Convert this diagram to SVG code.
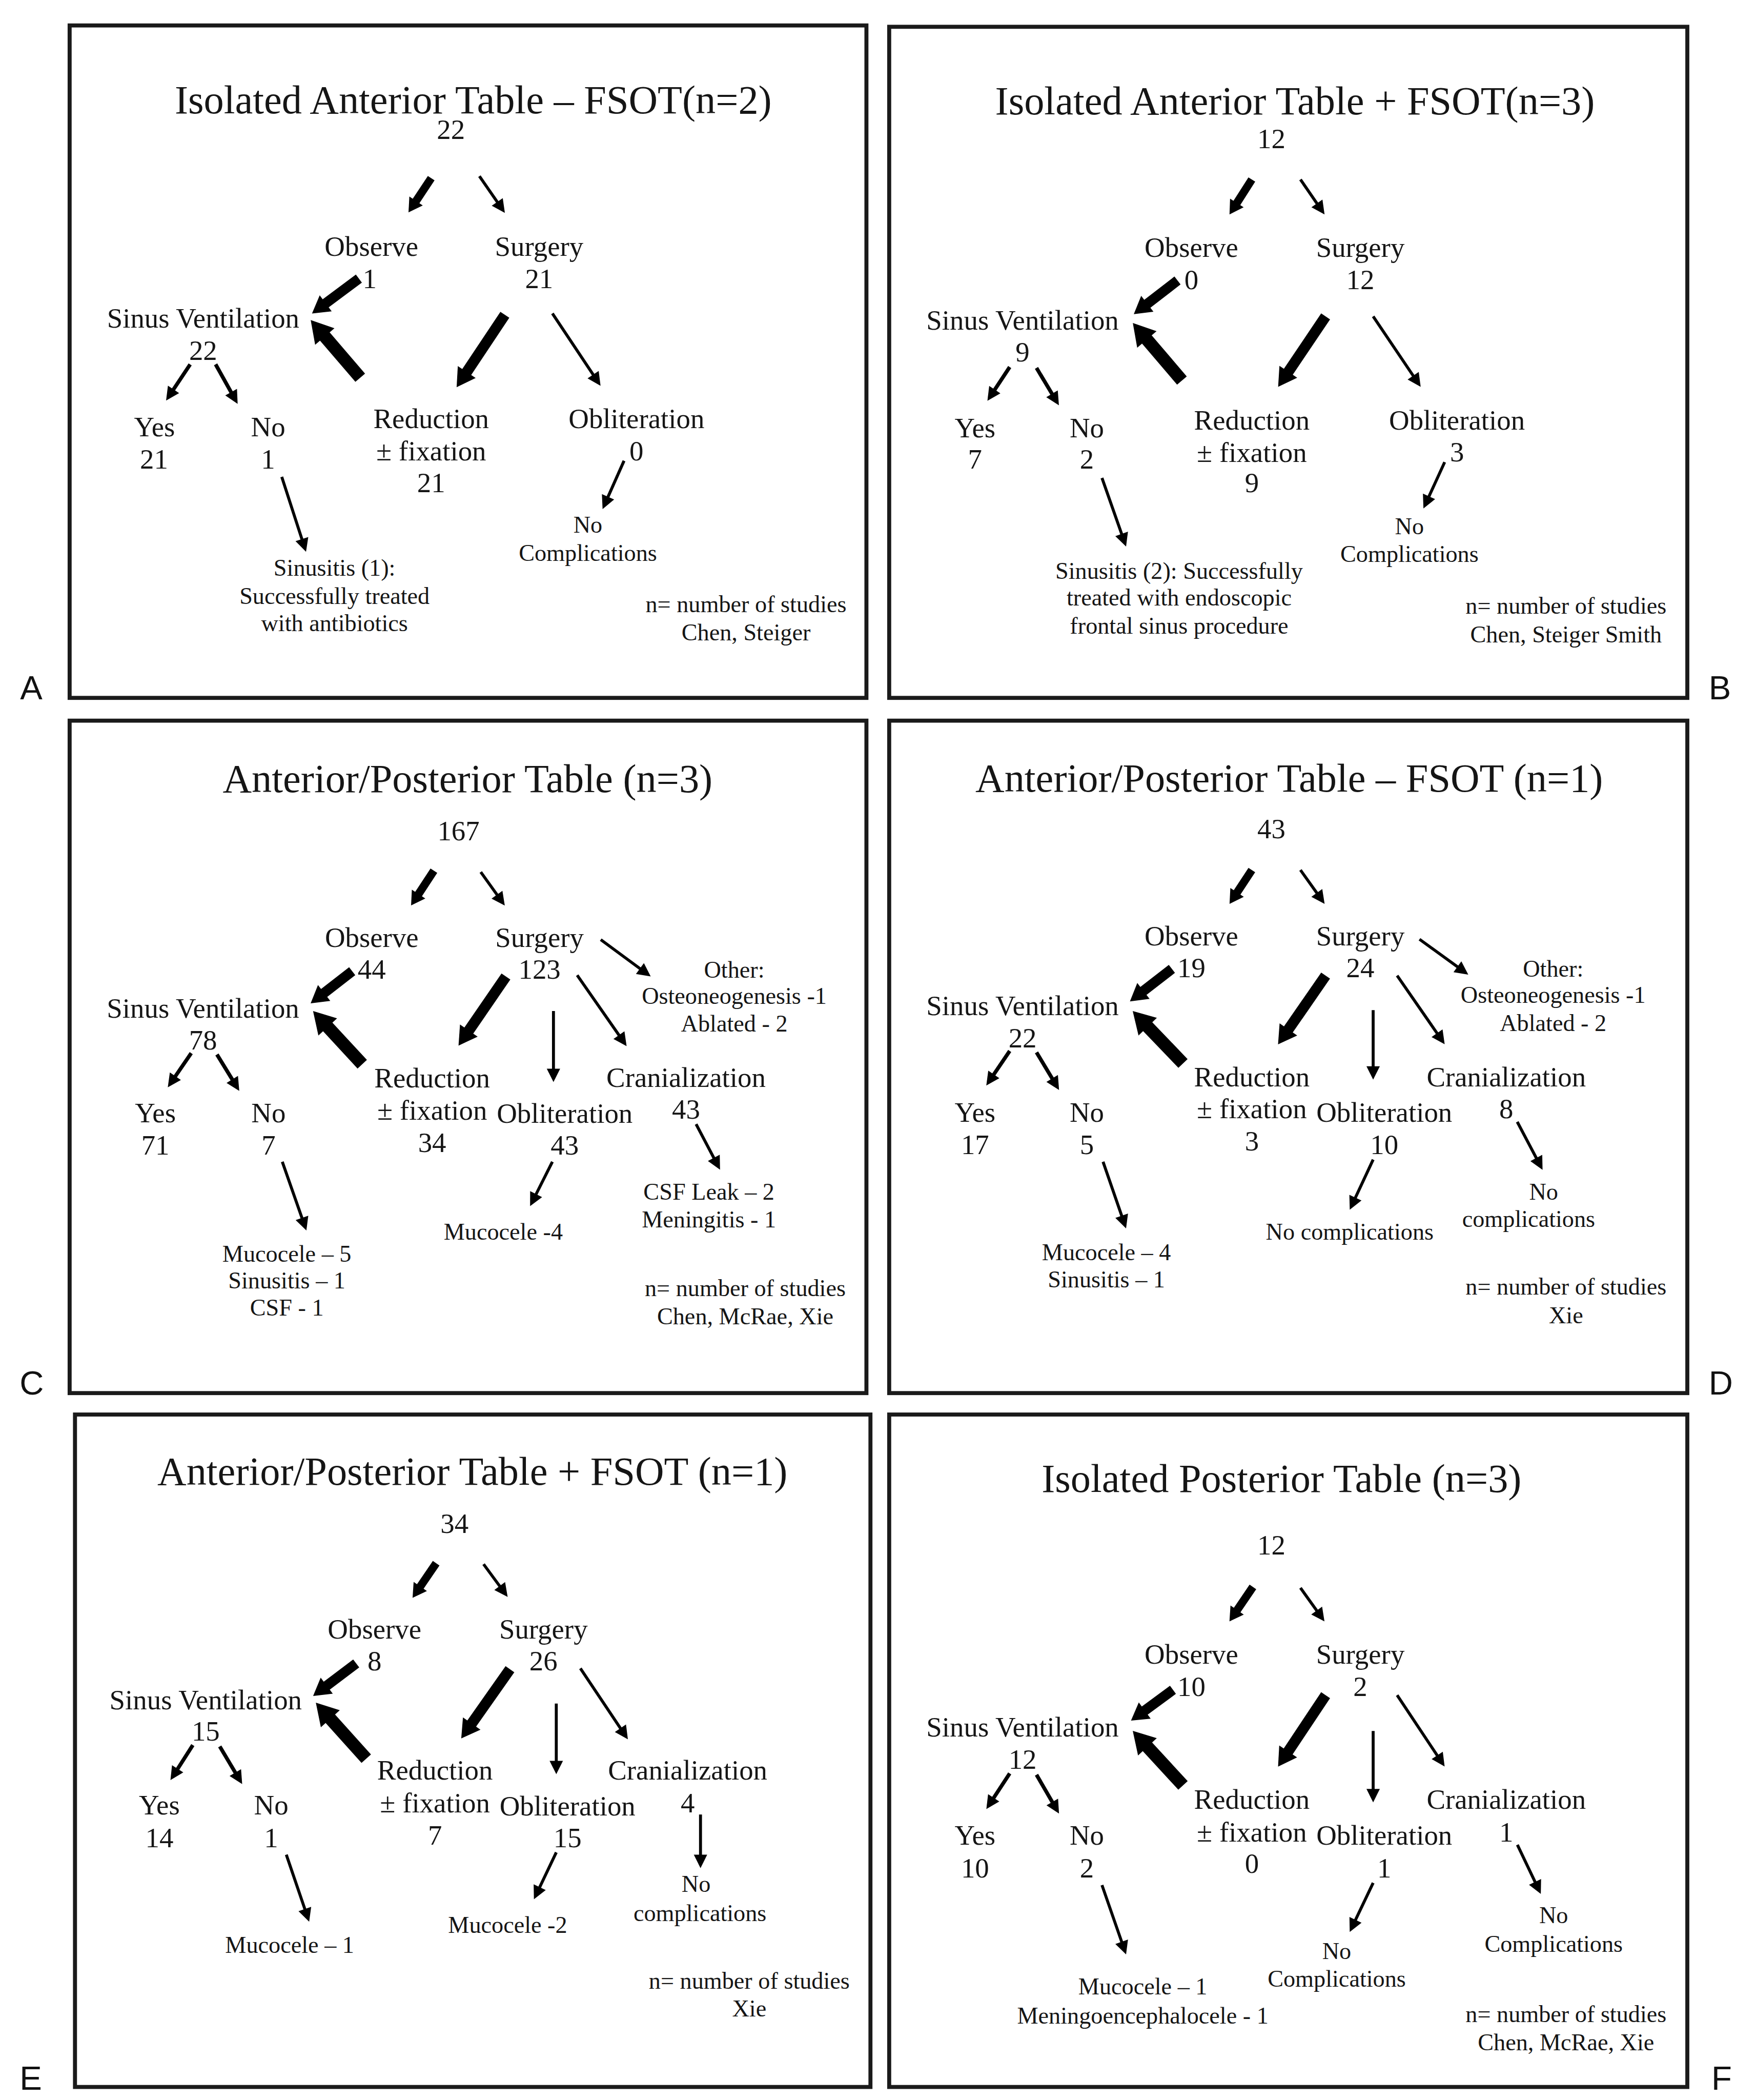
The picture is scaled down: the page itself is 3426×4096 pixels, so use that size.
<svg xmlns="http://www.w3.org/2000/svg" width="3426" height="4096" viewBox="0 0 3426 4096">
<defs>
<style>
.t{font-family:"Liberation Serif","Times New Roman",serif;fill:#151515;text-anchor:middle}
.ti{font-size:30px}
.n{font-size:21px}
.s{font-size:17.7px}
.lbl{font-family:"Liberation Sans",Arial,sans-serif;font-size:25px;fill:#111}
.fr{fill:none;stroke:#1a1a1a;stroke-width:3}
.k{stroke:#000;fill:none;marker-end:url(#hk)}
.w6{stroke-width:6}.w75{stroke-width:7.5}.w8{stroke-width:8}.w95{stroke-width:9.5}
.a{stroke:#000;fill:none;stroke-width:2.2;marker-end:url(#hn)}
.m{stroke-width:2.8}
</style>
<marker id="hk" viewBox="0 -1 1.7 2" refX="0.75" refY="0" markerWidth="1.7" markerHeight="2" orient="auto" markerUnits="strokeWidth" overflow="visible"><path d="M0,-1 L1.7,0 L0,1 z" fill="#000"/></marker>
<marker id="hn" viewBox="0 -5 10 10" refX="7" refY="0" markerWidth="10" markerHeight="10" orient="auto" markerUnits="userSpaceOnUse" overflow="visible"><path d="M0,-5 L10,0 L0,5 z" fill="#000"/></marker>
</defs>
<rect x="0" y="0" width="3426" height="4096" fill="#fff"/>
<g transform="scale(2.6127)">
<g id="frames">
<rect class="fr" x="52" y="19" width="595" height="502"/>
<rect class="fr" x="664" y="20" width="596" height="501"/>
<rect class="fr" x="52" y="538" width="595" height="502"/>
<rect class="fr" x="664" y="538" width="596" height="502"/>
<rect class="fr" x="56" y="1056" width="594" height="502"/>
<rect class="fr" x="664" y="1056" width="596" height="502"/>
<text class="lbl" x="15" y="522">A</text>
<text class="lbl" x="1276" y="522">B</text>
<text class="lbl" x="14.6" y="1041">C</text>
<text class="lbl" x="1276" y="1041">D</text>
<text class="lbl" x="14.6" y="1560">E</text>
<text class="lbl" x="1278" y="1560">F</text>
</g>

<g id="connectors">
<g id="conn-A">
<line class="k w6" x1="322" y1="133" x2="308.2" y2="153.8"/>
<line class="a" x1="358" y1="131.5" x2="375.3" y2="156.5"/>
<line class="k w75" x1="268" y1="208" x2="238.7" y2="229.8"/>
<line class="k w95" x1="269" y1="282" x2="237.9" y2="245.8"/>
<line class="k w8" x1="377" y1="235" x2="345.2" y2="282.7"/>
<line class="a" x1="412.5" y1="234" x2="446.8" y2="285.5"/>
<line class="a m" x1="142" y1="272" x2="125.7" y2="296.5"/>
<line class="a m" x1="161" y1="272" x2="176" y2="298.9"/>
<line class="a" x1="210.4" y1="356" x2="227.6" y2="409.1"/>
<line class="a" x1="466" y1="344" x2="451.2" y2="377.3"/>
</g>
<g id="conn-B">
<line class="k w6" x1="934.8" y1="134" x2="921.2" y2="155.3"/>
<line class="a" x1="971.1" y1="134" x2="987.4" y2="157.6"/>
<line class="k w75" x1="879.3" y1="209.4" x2="852.3" y2="230.2"/>
<line class="k w95" x1="882.6" y1="284.1" x2="851.8" y2="248"/>
<line class="k w8" x1="989.9" y1="236.2" x2="958.7" y2="282.5"/>
<line class="a" x1="1025.4" y1="236.2" x2="1059.2" y2="286.3"/>
<line class="a m" x1="754" y1="274" x2="739" y2="296.7"/>
<line class="a m" x1="774" y1="274.7" x2="789.2" y2="300"/>
<line class="a" x1="822.9" y1="356.8" x2="839.9" y2="405.2"/>
<line class="a" x1="1078.8" y1="345" x2="1064.2" y2="376.9"/>
</g>
<g id="conn-C">
<line class="k w6" x1="324" y1="650" x2="310.1" y2="671.2"/>
<line class="a" x1="359" y1="651" x2="375.2" y2="673.6"/>
<line class="a" x1="448.6" y1="701.5" x2="483.5" y2="727.2"/>
<line class="k w75" x1="263" y1="725" x2="237.6" y2="744.7"/>
<line class="k w95" x1="270.5" y1="794.5" x2="239.9" y2="761.4"/>
<line class="k w8" x1="377.8" y1="729" x2="346.7" y2="774.3"/>
<line class="a" x1="413.3" y1="754.8" x2="413.3" y2="804.8"/>
<line class="a" x1="431" y1="728" x2="466.2" y2="778.5"/>
<line class="a m" x1="142.8" y1="786.2" x2="127" y2="809.2"/>
<line class="a m" x1="162" y1="787.2" x2="177.1" y2="811.8"/>
<line class="a" x1="210.8" y1="867.3" x2="227.8" y2="915.8"/>
<line class="a" x1="412.5" y1="867.3" x2="397.2" y2="897.7"/>
<line class="a" x1="519.8" y1="839.2" x2="536.3" y2="870.6"/>
</g>
<g id="conn-D">
<line class="k w6" x1="934.8" y1="649.5" x2="921.3" y2="670"/>
<line class="a" x1="971.1" y1="649.5" x2="987.4" y2="672.3"/>
<line class="a" x1="1060" y1="701.2" x2="1094" y2="725.8"/>
<line class="k w75" x1="875.1" y1="723.3" x2="849.4" y2="743.2"/>
<line class="k w95" x1="883.4" y1="793.9" x2="852.1" y2="761.3"/>
<line class="k w8" x1="989.9" y1="728.3" x2="958.7" y2="773.4"/>
<line class="a" x1="1025.4" y1="754.1" x2="1025.4" y2="803"/>
<line class="a" x1="1043.3" y1="728.3" x2="1077.1" y2="777.1"/>
<line class="a m" x1="754" y1="784.6" x2="738.2" y2="807.9"/>
<line class="a m" x1="774" y1="785.6" x2="789.3" y2="811.1"/>
<line class="a" x1="823.7" y1="867.3" x2="839.9" y2="914.2"/>
<line class="a" x1="1025.4" y1="865.7" x2="1009.2" y2="900.4"/>
<line class="a" x1="1133" y1="837.5" x2="1150.5" y2="870.7"/>
</g>
<g id="conn-E">
<line class="k w6" x1="325.7" y1="1167" x2="311.3" y2="1188.1"/>
<line class="a" x1="361.1" y1="1167.7" x2="377.3" y2="1189.7"/>
<line class="k w75" x1="266" y1="1241.8" x2="239.5" y2="1261.8"/>
<line class="k w95" x1="273.5" y1="1312.9" x2="241.9" y2="1277.8"/>
<line class="k w8" x1="380.8" y1="1246.1" x2="348.8" y2="1291.6"/>
<line class="a" x1="415.4" y1="1271.8" x2="415.4" y2="1321.5"/>
<line class="a" x1="433.4" y1="1245.5" x2="467.2" y2="1296"/>
<line class="a m" x1="144" y1="1302.8" x2="128.9" y2="1326.4"/>
<line class="a m" x1="164.1" y1="1303.8" x2="179.3" y2="1329.3"/>
<line class="a" x1="523.1" y1="1354.6" x2="523.1" y2="1391.6"/>
<line class="a" x1="213.8" y1="1384.6" x2="229.9" y2="1431.8"/>
<line class="a" x1="415.4" y1="1382.9" x2="400" y2="1415.2"/>
</g>
<g id="conn-F">
<line class="k w6" x1="935.6" y1="1184.7" x2="921.3" y2="1205.7"/>
<line class="a" x1="971.1" y1="1185.4" x2="987.3" y2="1208"/>
<line class="k w75" x1="875.9" y1="1261.5" x2="850.3" y2="1280.3"/>
<line class="k w95" x1="883.4" y1="1332.9" x2="852" y2="1298.8"/>
<line class="k w8" x1="989.9" y1="1265.5" x2="958.6" y2="1312.5"/>
<line class="a" x1="1025.4" y1="1292.2" x2="1025.4" y2="1342.5"/>
<line class="a" x1="1043.3" y1="1265.5" x2="1077.1" y2="1316.3"/>
<line class="a m" x1="754" y1="1323.9" x2="738.2" y2="1348"/>
<line class="a m" x1="774" y1="1324.9" x2="789.3" y2="1351.3"/>
<line class="a" x1="1133.1" y1="1377.2" x2="1149.3" y2="1411.2"/>
<line class="a" x1="1025.4" y1="1405.6" x2="1009.2" y2="1439.6"/>
<line class="a" x1="822.9" y1="1407.3" x2="839.9" y2="1456.2"/>
</g>
</g>

<g id="panel-A">
<g id="A-title"><text class="t ti" x="353.4" y="84.4">Isolated Anterior Table – FSOT(n=2)</text></g>
<g id="A-root"><text class="t n" x="336.7" y="103.8">22</text></g>
<g id="A-observe"><text class="t n" x="277.4" y="191">Observe</text><text class="t n" x="276" y="215">1</text></g>
<g id="A-surgery"><text class="t n" x="402.6" y="191">Surgery</text><text class="t n" x="402.6" y="215">21</text></g>
<g id="A-sinus"><text class="t n" x="151.7" y="244.5">Sinus Ventilation</text><text class="t n" x="151.7" y="268.6">22</text></g>
<g id="A-yes"><text class="t n" x="115.4" y="325.6">Yes</text><text class="t n" x="115" y="349.7">21</text></g>
<g id="A-no"><text class="t n" x="200.2" y="325.6">No</text><text class="t n" x="200.2" y="349.7">1</text></g>
<g id="A-reduction"><text class="t n" x="322" y="319.5">Reduction</text><text class="t n" x="322" y="343.6">± fixation</text><text class="t n" x="322" y="367.4">21</text></g>
<g id="A-obliteration"><text class="t n" x="475.3" y="319.5">Obliteration</text><text class="t n" x="475.3" y="343.6">0</text></g>
<g id="A-nocomp"><text class="t s" x="439" y="397.6">No</text><text class="t s" x="439" y="418.7">Complications</text></g>
<g id="A-sinusitis"><text class="t s" x="249.8" y="430">Sinusitis (1):</text><text class="t s" x="249.8" y="451">Successfully treated</text><text class="t s" x="249.8" y="471">with antibiotics</text></g>
<g id="A-legend"><text class="t s" x="557.1" y="457">n= number of studies</text><text class="t s" x="557.1" y="478">Chen, Steiger</text></g>
</g>

<g id="panel-B">
<g id="B-title"><text class="t ti" x="967" y="85.4">Isolated Anterior Table + FSOT(n=3)</text></g>
<g id="B-root"><text class="t n" x="949.4" y="110.6">12</text></g>
<g id="B-observe"><text class="t n" x="889.7" y="191.6">Observe</text><text class="t n" x="889.7" y="216">0</text></g>
<g id="B-surgery"><text class="t n" x="1015.8" y="191.6">Surgery</text><text class="t n" x="1015.8" y="216">12</text></g>
<g id="B-sinus"><text class="t n" x="763.6" y="246.2">Sinus Ventilation</text><text class="t n" x="763.6" y="269.7">9</text></g>
<g id="B-yes"><text class="t n" x="728.1" y="326.6">Yes</text><text class="t n" x="728.1" y="350">7</text></g>
<g id="B-no"><text class="t n" x="811.6" y="326.6">No</text><text class="t n" x="811.6" y="350">2</text></g>
<g id="B-reduction"><text class="t n" x="934.8" y="320.6">Reduction</text><text class="t n" x="934.8" y="345">± fixation</text><text class="t n" x="934.8" y="367.5">9</text></g>
<g id="B-obliteration"><text class="t n" x="1088" y="320.6">Obliteration</text><text class="t n" x="1088" y="344.4">3</text></g>
<g id="B-nocomp"><text class="t s" x="1052.5" y="398.7">No</text><text class="t s" x="1052.5" y="419.4">Complications</text></g>
<g id="B-sinusitis"><text class="t s" x="880.5" y="432">Sinusitis (2): Successfully</text><text class="t s" x="880.5" y="452">treated with endoscopic</text><text class="t s" x="880.5" y="473">frontal sinus procedure</text></g>
<g id="B-legend"><text class="t s" x="1169.4" y="458.3">n= number of studies</text><text class="t s" x="1169.4" y="479.7">Chen, Steiger Smith</text></g>
</g>

<g id="panel-C">
<g id="C-title"><text class="t ti" x="349.2" y="591.5">Anterior/Posterior Table (n=3)</text></g>
<g id="C-root"><text class="t n" x="342.4" y="627.5">167</text></g>
<g id="C-observe"><text class="t n" x="277.6" y="706.8">Observe</text><text class="t n" x="277.6" y="730.6">44</text></g>
<g id="C-surgery"><text class="t n" x="402.9" y="706.8">Surgery</text><text class="t n" x="402.9" y="730.6">123</text></g>
<g id="C-other"><text class="t s" x="548.3" y="730">Other:</text><text class="t s" x="548.3" y="749.5">Osteoneogenesis -1</text><text class="t s" x="548.3" y="770">Ablated - 2</text></g>
<g id="C-sinus"><text class="t n" x="151.6" y="759.7">Sinus Ventilation</text><text class="t n" x="151.6" y="783.6">78</text></g>
<g id="C-reduction"><text class="t n" x="322.7" y="811.7">Reduction</text><text class="t n" x="322.7" y="835.9">± fixation</text><text class="t n" x="322.7" y="860">34</text></g>
<g id="C-obliteration"><text class="t n" x="421.7" y="838.2">Obliteration</text><text class="t n" x="421.7" y="862">43</text></g>
<g id="C-cranialization"><text class="t n" x="512.3" y="811.4">Cranialization</text><text class="t n" x="512.3" y="835">43</text></g>
<g id="C-yes"><text class="t n" x="116" y="838">Yes</text><text class="t n" x="116" y="862">71</text></g>
<g id="C-no"><text class="t n" x="200.5" y="838">No</text><text class="t n" x="200.5" y="862">7</text></g>
<g id="C-no-out"><text class="t s" x="214.2" y="941.8">Mucocele – 5</text><text class="t s" x="214.2" y="961.7">Sinusitis – 1</text><text class="t s" x="214.2" y="982">CSF - 1</text></g>
<g id="C-obl-out"><text class="t s" x="375.8" y="925.3">Mucocele -4</text></g>
<g id="C-cran-out"><text class="t s" x="529.4" y="895.5">CSF Leak – 2</text><text class="t s" x="529.4" y="916.3">Meningitis - 1</text></g>
<g id="C-legend"><text class="t s" x="556.5" y="967.6">n= number of studies</text><text class="t s" x="556.5" y="988.8">Chen, McRae, Xie</text></g>
</g>

<g id="panel-D">
<g id="D-title"><text class="t ti" x="962.7" y="591">Anterior/Posterior Table – FSOT (n=1)</text></g>
<g id="D-root"><text class="t n" x="949.4" y="625.7">43</text></g>
<g id="D-observe"><text class="t n" x="889.7" y="705.8">Observe</text><text class="t n" x="889.7" y="729.6">19</text></g>
<g id="D-surgery"><text class="t n" x="1015.8" y="705.8">Surgery</text><text class="t n" x="1015.8" y="729.6">24</text></g>
<g id="D-other"><text class="t s" x="1159.8" y="729">Other:</text><text class="t s" x="1159.8" y="748.8">Osteoneogenesis -1</text><text class="t s" x="1159.8" y="769.7">Ablated - 2</text></g>
<g id="D-sinus"><text class="t n" x="763.6" y="758">Sinus Ventilation</text><text class="t n" x="763.6" y="782">22</text></g>
<g id="D-yes"><text class="t n" x="728.1" y="837.5">Yes</text><text class="t n" x="728.1" y="861.4">17</text></g>
<g id="D-no"><text class="t n" x="811.6" y="837.5">No</text><text class="t n" x="811.6" y="861.4">5</text></g>
<g id="D-reduction"><text class="t n" x="934.8" y="811">Reduction</text><text class="t n" x="934.8" y="834.9">± fixation</text><text class="t n" x="934.8" y="859">3</text></g>
<g id="D-obliteration"><text class="t n" x="1033.7" y="837.5">Obliteration</text><text class="t n" x="1033.7" y="861.4">10</text></g>
<g id="D-cranialization"><text class="t n" x="1124.8" y="811">Cranialization</text><text class="t n" x="1124.8" y="834.9">8</text></g>
<g id="D-no-out"><text class="t s" x="826.2" y="940.8">Mucocele – 4</text><text class="t s" x="826.2" y="961">Sinusitis – 1</text></g>
<g id="D-obl-out"><text class="t s" x="1007.9" y="925.3">No complications</text></g>
<g id="D-cran-out"><text class="t s" x="1152.7" y="895.5">No</text><text class="t s" x="1141.5" y="916">complications</text></g>
<g id="D-legend"><text class="t s" x="1169.4" y="966.6">n= number of studies</text><text class="t s" x="1169.4" y="988">Xie</text></g>
</g>

<g id="panel-E">
<g id="E-title"><text class="t ti" x="352.8" y="1108.4">Anterior/Posterior Table + FSOT (n=1)</text></g>
<g id="E-root"><text class="t n" x="339.4" y="1144.4">34</text></g>
<g id="E-observe"><text class="t n" x="279.7" y="1223.4">Observe</text><text class="t n" x="279.7" y="1247.1">8</text></g>
<g id="E-surgery"><text class="t n" x="405.8" y="1223.4">Surgery</text><text class="t n" x="405.8" y="1247.1">26</text></g>
<g id="E-sinus"><text class="t n" x="153.6" y="1276.2">Sinus Ventilation</text><text class="t n" x="153.6" y="1299.5">15</text></g>
<g id="E-yes"><text class="t n" x="119" y="1354.6">Yes</text><text class="t n" x="119" y="1378.9">14</text></g>
<g id="E-no"><text class="t n" x="202.5" y="1354.6">No</text><text class="t n" x="202.5" y="1378.9">1</text></g>
<g id="E-reduction"><text class="t n" x="324.8" y="1328.5">Reduction</text><text class="t n" x="324.8" y="1352.9">± fixation</text><text class="t n" x="324.8" y="1377.2">7</text></g>
<g id="E-obliteration"><text class="t n" x="423.8" y="1355.2">Obliteration</text><text class="t n" x="423.8" y="1378.9">15</text></g>
<g id="E-cranialization"><text class="t n" x="513.5" y="1328.5">Cranialization</text><text class="t n" x="513.5" y="1352.9">4</text></g>
<g id="E-cran-out"><text class="t s" x="519.8" y="1412.3">No</text><text class="t s" x="522.7" y="1434">complications</text></g>
<g id="E-no-out"><text class="t s" x="216.3" y="1458">Mucocele – 1</text></g>
<g id="E-obl-out"><text class="t s" x="379.1" y="1443">Mucocele -2</text></g>
<g id="E-legend"><text class="t s" x="559.5" y="1484.6">n= number of studies</text><text class="t s" x="559.5" y="1505.3">Xie</text></g>
</g>

<g id="panel-F">
<g id="F-title"><text class="t ti" x="957" y="1113.7">Isolated Posterior Table (n=3)</text></g>
<g id="F-root"><text class="t n" x="949.4" y="1160.4">12</text></g>
<g id="F-observe"><text class="t n" x="889.7" y="1242.1">Observe</text><text class="t n" x="889.7" y="1266.1">10</text></g>
<g id="F-surgery"><text class="t n" x="1015.8" y="1242.1">Surgery</text><text class="t n" x="1015.8" y="1266.1">2</text></g>
<g id="F-sinus"><text class="t n" x="763.6" y="1296.2">Sinus Ventilation</text><text class="t n" x="763.6" y="1320.5">12</text></g>
<g id="F-yes"><text class="t n" x="728.1" y="1377.2">Yes</text><text class="t n" x="728.1" y="1401.6">10</text></g>
<g id="F-no"><text class="t n" x="811.6" y="1377.2">No</text><text class="t n" x="811.6" y="1401.6">2</text></g>
<g id="F-reduction"><text class="t n" x="934.8" y="1350.5">Reduction</text><text class="t n" x="934.8" y="1374.9">± fixation</text><text class="t n" x="934.8" y="1398.2">0</text></g>
<g id="F-obliteration"><text class="t n" x="1033.7" y="1377.2">Obliteration</text><text class="t n" x="1033.7" y="1401.6">1</text></g>
<g id="F-cranialization"><text class="t n" x="1124.8" y="1350.5">Cranialization</text><text class="t n" x="1124.8" y="1374.9">1</text></g>
<g id="F-cran-out"><text class="t s" x="1160.2" y="1435.6">No</text><text class="t s" x="1160.2" y="1457.3">Complications</text></g>
<g id="F-obl-out"><text class="t s" x="998.2" y="1462.3">No</text><text class="t s" x="998.2" y="1483">Complications</text></g>
<g id="F-no-out"><text class="t s" x="853.4" y="1489">Mucocele – 1</text><text class="t s" x="853.4" y="1510.7">Meningoencephalocele - 1</text></g>
<g id="F-legend"><text class="t s" x="1169.4" y="1509.7">n= number of studies</text><text class="t s" x="1169.4" y="1530.7">Chen, McRae, Xie</text></g>
</g>
</g>
</svg>
